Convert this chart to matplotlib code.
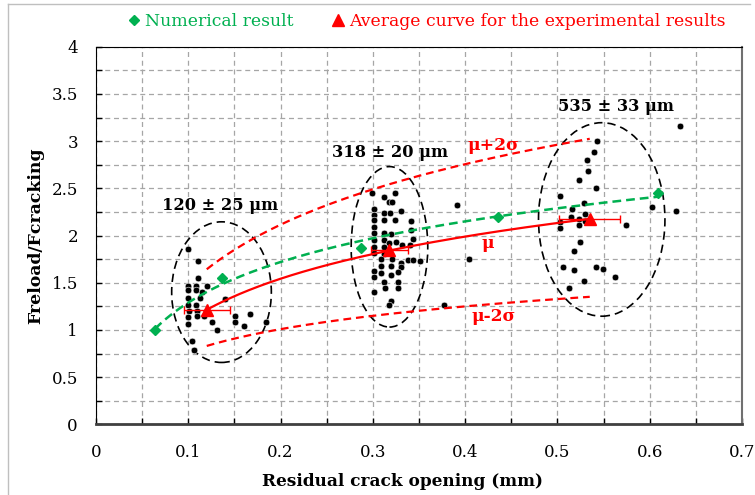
import numpy as np
import matplotlib
matplotlib.use("Agg")
import matplotlib.pyplot as plt
from matplotlib.patches import Ellipse
from matplotlib.lines import Line2D
from matplotlib.ticker import MultipleLocator, FuncFormatter

plt.rcParams['font.family'] = ['DejaVu Serif']

# experimentalni rezultati (tacke)
exp_x = [0.100, 0.111, 0.111, 0.100, 0.108, 0.120, 0.100, 0.108, 0.115, 0.100,
         0.113, 0.140, 0.100, 0.108, 0.101, 0.109, 0.119, 0.109, 0.117, 0.100,
         0.151, 0.167, 0.126, 0.100, 0.151, 0.160, 0.184, 0.131, 0.104, 0.106,
         0.299, 0.312, 0.324, 0.317, 0.321, 0.301, 0.312, 0.319, 0.331, 0.301,
         0.312, 0.324, 0.301, 0.301, 0.341, 0.341, 0.301, 0.312, 0.320, 0.301,
         0.312, 0.318, 0.325, 0.332, 0.343, 0.340, 0.301, 0.312, 0.301, 0.312,
         0.321, 0.309, 0.330, 0.338, 0.343, 0.351, 0.309, 0.320, 0.331, 0.301,
         0.309, 0.327, 0.301, 0.312, 0.320, 0.327, 0.327, 0.313, 0.301, 0.320,
         0.317, 0.391, 0.404, 0.377,
         0.633, 0.543, 0.540, 0.532, 0.533, 0.523, 0.542, 0.503, 0.529, 0.516,
         0.515, 0.523, 0.530, 0.530, 0.523, 0.503, 0.503, 0.524, 0.518, 0.506,
         0.518, 0.542, 0.549, 0.562, 0.529, 0.512, 0.574, 0.602, 0.628]
exp_y = [1.86, 1.73, 1.55, 1.47, 1.46, 1.46, 1.42, 1.42, 1.40, 1.34,
         1.34, 1.33, 1.26, 1.26, 1.20, 1.20, 1.19, 1.15, 1.15, 1.14,
         1.15, 1.17, 1.08, 1.06, 1.08, 1.04, 1.08, 1.00, 0.88, 0.79,
         2.45, 2.41, 2.45, 2.36, 2.36, 2.28, 2.24, 2.24, 2.26, 2.22,
         2.16, 2.16, 2.16, 2.09, 2.15, 2.06, 2.03, 2.03, 2.02, 1.95,
         1.95, 1.92, 1.93, 1.90, 1.96, 1.90, 1.88, 1.88, 1.81, 1.80,
         1.75, 1.75, 1.71, 1.74, 1.74, 1.73, 1.68, 1.68, 1.67, 1.62,
         1.60, 1.61, 1.56, 1.51, 1.58, 1.51, 1.44, 1.44, 1.40, 1.31,
         1.26, 2.32, 1.75, 1.26,
         3.16, 3.00, 2.88, 2.80, 2.68, 2.59, 2.50, 2.42, 2.34, 2.28,
         2.20, 2.18, 2.23, 2.15, 2.11, 2.14, 2.08, 1.93, 1.84, 1.67,
         1.63, 1.67, 1.64, 1.56, 1.52, 1.44, 2.11, 2.30, 2.26]

# numericki rezultati
num_x = [0.064, 0.137, 0.287, 0.436, 0.609]
num_y = [0.997, 1.546, 1.871, 2.193, 2.447]

# prosecna kriva (mu) i granice mu +/- 2 sigma
avg_x = [0.120, 0.318, 0.535]
avg_xerr = [0.025, 0.020, 0.033]
avg_y = [1.21, 1.85, 2.17]
upper_y = [1.64, 2.55, 3.02]
lower_y = [0.83, 1.17, 1.35]

cluster_labels = ['120 ± 25 μm', '318 ± 20 μm', '535 ± 33 μm']

GREEN = '#00B050'
RED = '#FF0000'


def log_trend(x, y):
    # kao Excel logaritamski trend
    a, b = np.polyfit(np.log(x), y, 1)
    xx = np.linspace(min(x), max(x), 200)
    return xx, a * np.log(xx) + b


fig = plt.figure(figsize=(7.55, 4.95), dpi=100)
ax = fig.add_axes([96 / 755, 70.7 / 495, 646 / 755, 377.6 / 495])

ax.set_xlim(0, 0.7)
ax.set_ylim(0, 4)
ax.xaxis.set_major_locator(MultipleLocator(0.1))
ax.xaxis.set_minor_locator(MultipleLocator(0.05))
ax.yaxis.set_major_locator(MultipleLocator(0.5))
ax.yaxis.set_minor_locator(MultipleLocator(0.25))
fmt = FuncFormatter(lambda v, p: f'{v:g}')
ax.xaxis.set_major_formatter(fmt)
ax.yaxis.set_major_formatter(fmt)
ax.tick_params(which='both', direction='in', length=4, width=1, labelsize=12)
ax.tick_params(axis='x', pad=14)
ax.tick_params(axis='y', pad=13)
ax.grid(which='both', color='#a6a6a6', linestyle=(0, (4, 3)), linewidth=0.9)
ax.set_axisbelow(True)

ax.spines['left'].set_color('black')
ax.spines['top'].set_color('black')
ax.spines['right'].set_color('#707070')
ax.spines['right'].set_linewidth(1.5)
ax.spines['bottom'].set_color('#404040')
ax.spines['bottom'].set_linewidth(2)

ax.set_xlabel('Residual crack opening (mm)', fontsize=12.2, fontweight='bold')
ax.xaxis.set_label_coords(0.475, -0.128)
ax.set_ylabel('Freload/Fcracking', fontsize=12.4, fontweight='bold', labelpad=5)

# elipse oko grupa
ax.add_patch(Ellipse((0.136, 1.40), 0.108, 1.49, fill=False, ec='black', lw=1.2, ls=(0, (5, 3))))
ax.add_patch(Ellipse((0.318, 1.88), 0.083, 1.70, fill=False, ec='black', lw=1.2, ls=(0, (5, 3))))
ax.add_patch(Ellipse((0.548, 2.17), 0.137, 2.05, fill=False, ec='black', lw=1.2, ls=(0, (5, 3))))

ax.plot(exp_x, exp_y, 'o', color='black', ms=4.8, mec='white', mew=0.4, zorder=3)

xx, yy = log_trend(num_x, num_y)
ax.plot(xx, yy, color=GREEN, lw=1.8, ls=(0, (3.5, 2)), zorder=4)
ax.plot(num_x, num_y, 'D', color=GREEN, ms=5.5, zorder=5)

xx, yy = log_trend(avg_x, upper_y)
ax.plot(xx, yy, color=RED, lw=1.6, ls=(0, (3.5, 2.2)), zorder=4)
xx, yy = log_trend(avg_x, lower_y)
ax.plot(xx, yy, color=RED, lw=1.6, ls=(0, (3.5, 2.2)), zorder=4)
xx, yy = log_trend(avg_x, avg_y)
ax.plot(xx, yy, color=RED, lw=1.6, zorder=4)
ax.errorbar(avg_x, avg_y, xerr=avg_xerr, fmt='none', ecolor=RED, elinewidth=1, capsize=3, zorder=5)
ax.plot(avg_x, avg_y, '^', color=RED, ms=9, zorder=6)

for (tx, ty), lab in zip([(0.134, 2.32), (0.3185, 2.88), (0.563, 3.37)], cluster_labels):
    ax.text(tx, ty, lab, ha='center', va='center', fontsize=11.7, fontweight='bold')

ax.text(0.431, 2.95, 'μ+2σ', color=RED, ha='center', va='center', fontsize=12.3, fontweight='bold')
ax.text(0.425, 1.92, 'μ', color=RED, ha='center', va='center', fontsize=12.3, fontweight='bold')
ax.text(0.431, 1.14, 'μ-2σ', color=RED, ha='center', va='center', fontsize=12.3, fontweight='bold')

handles = [Line2D([], [], marker='D', ls='none', color=GREEN, ms=5),
           Line2D([], [], marker='^', ls='none', color=RED, ms=8)]
fig.legend(handles, ['Numerical result', 'Average curve for the experimental results'],
           loc='center', bbox_to_anchor=(0.565, 0.956), ncol=2, frameon=False,
           fontsize=12.4, handlelength=0.7, handletextpad=0.3, columnspacing=2.2,
           labelcolor=[GREEN, RED])

# okvir grafikona
fig.add_artist(Line2D([8 / 755, 8 / 755], [0, 1 - 4 / 495], transform=fig.transFigure, color='#bfbfbf', lw=1))
fig.add_artist(Line2D([8 / 755, 750 / 755], [1 - 4 / 495, 1 - 4 / 495], transform=fig.transFigure, color='#bfbfbf', lw=1))

fig.savefig('out.png', dpi=100)
